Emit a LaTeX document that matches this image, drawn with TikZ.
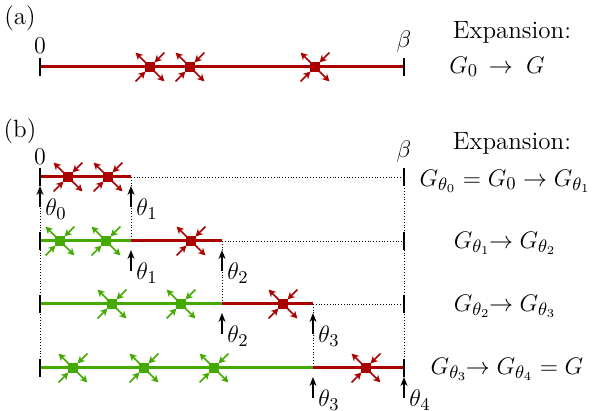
\documentclass[tikz,border=0pt]{standalone}
\usetikzlibrary{arrows.meta}
\definecolor{vred}{RGB}{170,0,0}
\definecolor{vgreen}{RGB}{68,170,0}
\tikzset{
  redline/.style={vred,line width=1.5pt},
  greenline/.style={vgreen,line width=1.5pt},
  tickline/.style={black,line width=0.7pt},
  dotline/.style={black,densely dotted,line width=0.4pt},
  thetaarrow/.style={-{Stealth[length=4.5pt,width=3.5pt]},line width=0.7pt},
  lbl/.style={inner sep=0pt,font=\fontsize{12.5}{14}\selectfont},
  vtip/.style={-{Stealth[length=3.6pt,width=3.8pt]},line width=0.85pt},
  pics/vertex/.style={code={
    \fill[#1] (-2.6pt,-2.6pt) rectangle (2.6pt,2.6pt);
    \draw[vtip,#1] (-1.5pt,1.5pt) -- (-7.2pt,7.2pt);
    \draw[vtip,#1] (7.2pt,7.2pt) -- (2.3pt,2.3pt);
    \draw[vtip,#1] (1.5pt,-1.5pt) -- (7.2pt,-7.2pt);
    \draw[vtip,#1] (-7.2pt,-7.2pt) -- (-2.3pt,-2.3pt);
  }}
}
\begin{document}
\begin{tikzpicture}[x=0.5pt,y=-0.5pt]
\useasboundingbox (0,0) rectangle (600,411);
% ---------------- (a)
\node[lbl] (la) at (20,18) {(a)};
\node[lbl] (za) at (40,46) {$0$};
\node[lbl] (ba) at (404,42) {$\beta$};
\coordinate (a0) at (40,67);
\coordinate (a1) at (404,67);
\draw[redline] (a0) -- (a1);
\draw[tickline] ([yshift=4.5pt]a0) -- ([yshift=-4.5pt]a0);
\draw[tickline] ([yshift=4.5pt]a1) -- ([yshift=-4.5pt]a1);
\pic at (150,67) {vertex=vred};
\pic at (190,67) {vertex=vred};
\pic at (315,67) {vertex=vred};
\node[lbl] (expa) at (512,32) {Expansion:};
\node[lbl] (eqa) at (497,67) {$G_0 \,\to\; G$};
% ---------------- (b)
\node[lbl] (lb) at (20,131) {(b)};
\node[lbl] (zb) at (40,157) {$0$};
\node[lbl] (bb) at (404,152) {$\beta$};
% row coordinates
\foreach \r/\y in {1/177,2/241,3/304,4/368}{
  \foreach \c/\x in {0/40,1/131,2/222,3/313,4/404}{
    \coordinate (p\r\c) at (\x,\y);
  }
}
% vertical dotted guides
\draw[dotline] (p10) -- (p40);
\draw[dotline] (p14) -- (p44);
\draw[dotline] (p11) -- (p21);
\draw[dotline] (p22) -- (p32);
\draw[dotline] (p33) -- (p43);
% row 1
\draw[redline] (p10) -- (p11);
\draw[dotline] (p11) -- (p14);
\pic at (68,177) {vertex=vred};
\pic at (108,177) {vertex=vred};
% row 2
\draw[greenline] (p20) -- (p21);
\draw[redline] (p21) -- (p22);
\draw[dotline] (p22) -- (p24);
\pic at (60,241) {vertex=vgreen};
\pic at (106,241) {vertex=vgreen};
\pic at (191,241) {vertex=vred};
% row 3
\draw[greenline] (p30) -- (p32);
\draw[redline] (p32) -- (p33);
\draw[dotline] (p33) -- (p34);
\pic at (112,304) {vertex=vgreen};
\pic at (181,304) {vertex=vgreen};
\pic at (283,304) {vertex=vred};
% row 4
\draw[greenline] (p40) -- (p43);
\draw[redline] (p43) -- (p44);
\pic at (73,368) {vertex=vgreen};
\pic at (144,368) {vertex=vgreen};
\pic at (214,368) {vertex=vgreen};
\pic at (366,368) {vertex=vred};
% ticks at row ends
\foreach \r in {1,2,3,4}{
  \draw[tickline] ([yshift=4.5pt]p\r0) -- ([yshift=-4.5pt]p\r0);
  \draw[tickline] ([yshift=4.5pt]p\r4) -- ([yshift=-4.5pt]p\r4);
}
% theta arrows and labels
\foreach \r/\c/\t in {1/0/0,1/1/1,2/1/1,2/2/2,3/2/2,3/3/3,4/3/3,4/4/4}{
  \draw[thetaarrow] ([yshift=-15pt]p\r\c) -- ([yshift=-4.5pt]p\r\c);
  \node[lbl,anchor=west] (t\r\c) at ([xshift=2.5pt,yshift=-16pt]p\r\c) {$\theta_{\t}$};
}
% right-hand texts
\node[lbl] (expb) at (512,143) {Expansion:};
\node[lbl] (eq1) at (505,181) {$G_{\theta_0}=G_0\to G_{\theta_1}$};
\node[lbl] (eq2) at (505,243) {$G_{\theta_1}\!\!\to G_{\theta_2}$};
\node[lbl] (eq3) at (505,306) {$G_{\theta_2}\!\!\to G_{\theta_3}$};
\node[lbl] (eq4) at (507,369) {$G_{\theta_3}\!\!\to G_{\theta_4}=G$};
\end{tikzpicture}
\end{document}
